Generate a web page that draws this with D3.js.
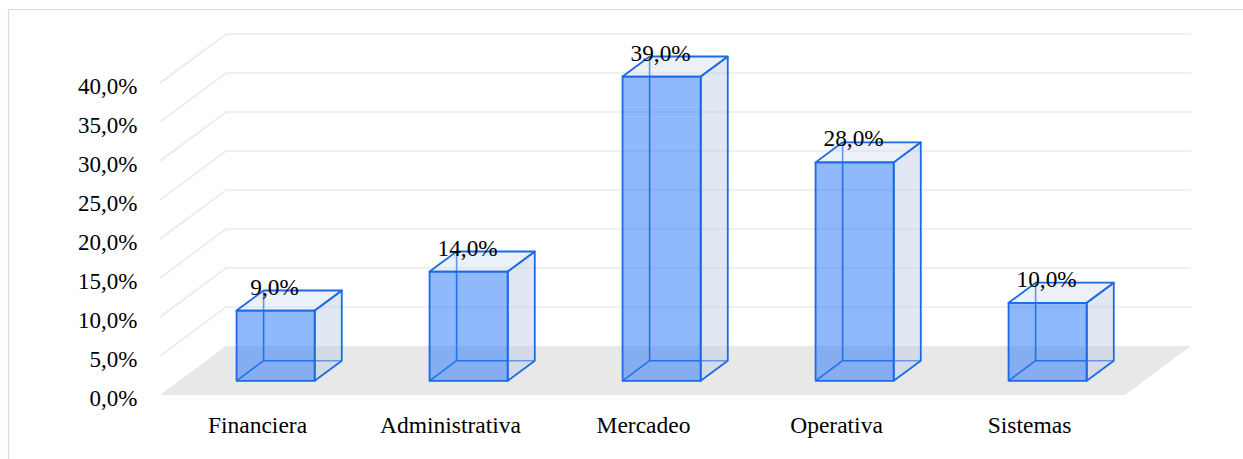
<!DOCTYPE html>
<html>
<head>
<meta charset="utf-8">
<script src="https://cdn.jsdelivr.net/npm/d3@7"></script>
<style>
  body { margin: 0; background: #fff; }
  text { font-family: "Liberation Serif", "Times New Roman", serif; fill: #000; }
</style>
</head>
<body>
<svg id="chart" width="1243" height="459"></svg>
<script>
var categories = ["Financiera", "Administrativa", "Mercadeo", "Operativa", "Sistemas"];
var values = [9.0, 14.0, 39.0, 28.0, 10.0];
var ticks = [0, 5, 10, 15, 20, 25, 30, 35, 40];

var svg = d3.select("#chart");

// depth vector of the 3D floor
var DX = 66, DY = -49;
// front / back of bars, as a fraction of the depth
var F1 = 0.29, F2 = 0.7;

var x = d3.scaleBand().domain(categories).range([160, 1125]).paddingInner(0).paddingOuter(0);
var y = d3.scaleLinear().domain([0, 40]).range([395, 83]);

var fmt = function (v) { return d3.format(".1f")(v).replace(".", ",") + "%"; };

// outer frame
svg.append("path")
    .attr("d", "M8.5,470 L8.5,9.5 L1250,9.5")
    .attr("fill", "none")
    .attr("stroke", "#d9d9d9")
    .attr("stroke-width", 1.2);

// floor
svg.append("path")
    .attr("d", "M" + x.range()[0] + "," + y(0) +
               " L" + x.range()[1] + "," + y(0) +
               " L" + (x.range()[1] + DX) + "," + (y(0) + DY) +
               " L" + (x.range()[0] + DX) + "," + (y(0) + DY) + " Z")
    .attr("fill", "#e8e8e8");

// gridlines: diagonal on left side wall + horizontal on back wall
svg.selectAll(".grid")
    .data(ticks.filter(function (t) { return t > 0; }))
    .enter()
    .append("path")
    .attr("class", "grid")
    .attr("d", function (t) {
        return "M" + x.range()[0] + "," + y(t) +
               " L" + (x.range()[0] + DX) + "," + (y(t) + DY) +
               " L" + (x.range()[1] + DX) + "," + (y(t) + DY);
    })
    .attr("fill", "none")
    .attr("stroke", "#ebebeb")
    .attr("stroke-width", 1.6);

// y tick labels
svg.selectAll(".ytick")
    .data(ticks)
    .enter()
    .append("text")
    .attr("class", "ytick")
    .attr("x", 137.5)
    .attr("y", function (t) { return y(t) + 10.5; })
    .attr("text-anchor", "end")
    .style("font-size", "23px")
    .text(fmt);

// bars
var barW = x.bandwidth() * 0.405;
var stroke = "#1c6ae6";

var bar = svg.selectAll(".bar")
    .data(values)
    .enter()
    .append("g")
    .attr("class", "bar");

bar.each(function (v, i) {
    var g = d3.select(this);
    var cx = x(categories[i]) + x.bandwidth() / 2;
    var fx0 = cx - barW / 2 + F1 * DX, fx1 = fx0 + barW;
    var fyb = y(0) + F1 * DY, fyt = y(v) + F1 * DY;
    var ox = (F2 - F1) * DX, oy = (F2 - F1) * DY;

    var poly = function (pts) { return "M" + pts.map(function (p) { return p.join(","); }).join(" L") + " Z"; };

    // back wireframe (hidden edges seen through)
    g.append("path")
        .attr("d", "M" + (fx0 + ox) + "," + (fyt + oy) + " L" + (fx0 + ox) + "," + (fyb + oy) +
                   " L" + (fx1 + ox) + "," + (fyb + oy) +
                   " M" + (fx0 + ox) + "," + (fyb + oy) + " L" + fx0 + "," + fyb)
        .attr("fill", "none").attr("stroke", stroke).attr("stroke-width", 1.6);

    // right side face
    g.append("path")
        .attr("d", poly([[fx1, fyt], [fx1 + ox, fyt + oy], [fx1 + ox, fyb + oy], [fx1, fyb]]))
        .attr("fill", "rgba(190,205,228,0.45)")
        .attr("stroke", stroke).attr("stroke-width", 1.8).attr("stroke-linejoin", "round");

    // top face
    g.append("path")
        .attr("d", poly([[fx0, fyt], [fx0 + ox, fyt + oy], [fx1 + ox, fyt + oy], [fx1, fyt]]))
        .attr("fill", "rgba(205,218,240,0.4)")
        .attr("stroke", stroke).attr("stroke-width", 1.8).attr("stroke-linejoin", "round");

    // front face
    g.append("path")
        .attr("d", poly([[fx0, fyt], [fx1, fyt], [fx1, fyb], [fx0, fyb]]))
        .attr("fill", "rgba(40,120,245,0.52)")
        .attr("stroke", stroke).attr("stroke-width", 1.8).attr("stroke-linejoin", "round");

    // value label
    g.append("text")
        .attr("x", (fx0 + fx1) / 2 - 1)
        .attr("y", fyt - 16)
        .attr("text-anchor", "middle")
        .style("font-size", "23.3px")
        .text(fmt(v));
});

// category labels
svg.selectAll(".xlab")
    .data(categories)
    .enter()
    .append("text")
    .attr("class", "xlab")
    .attr("x", function (d) { return x(d) + x.bandwidth() / 2 + 1; })
    .attr("y", 433)
    .attr("text-anchor", "middle")
    .style("font-size", "23.5px")
    .text(function (d) { return d; });
</script>
</body>
</html>
